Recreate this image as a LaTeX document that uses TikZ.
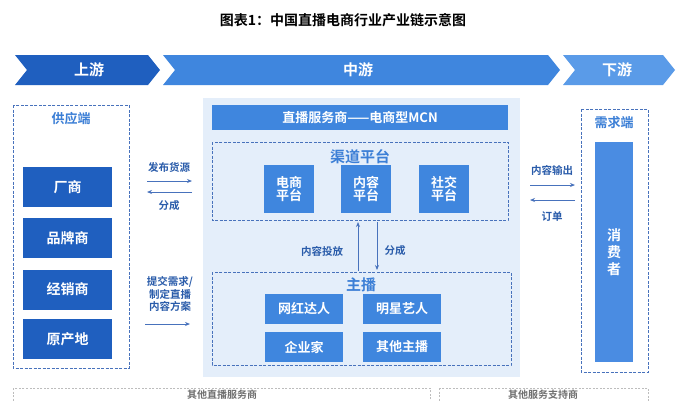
\documentclass[tikz,border=0pt]{standalone}
\usepackage{fontspec}
\setmainfont{Noto Sans CJK SC}[BoldFont={Noto Sans CJK SC Bold}]
\usetikzlibrary{arrows.meta}
\definecolor{cDark}{HTML}{1F5FBF}
\definecolor{cMid}{HTML}{3F86DE}
\definecolor{cLight}{HTML}{5A9BE8}
\definecolor{cCons}{HTML}{4A8CE2}
\definecolor{cPanel}{HTML}{E4EEFA}
\definecolor{cDash}{HTML}{4872BC}
\definecolor{cLab}{HTML}{2A5CAA}
\definecolor{cHead}{HTML}{3C7FD6}
\definecolor{cGray}{HTML}{BDBDBD}
\definecolor{cGrayT}{HTML}{6F6F6F}
\tikzset{
  fs/.style={font=\bfseries\fontsize{#1}{#1}\selectfont},
  chev/.style={fill=#1, draw=none},
  chevtext/.style={text=white, fs=15},
  darkbox/.style={fill=cDark, text=white, fs=14, minimum width=89pt, minimum height=40pt, inner sep=0pt},
  platbox/.style={fill=cMid, text=white, fs=13, minimum width=50pt, minimum height=48pt, inner sep=0pt, align=center},
  anchbox/.style={fill=cMid, text=white, fs=13, minimum width=78pt, minimum height=30pt, inner sep=0pt},
  dashbox/.style={draw=cDash, line width=1pt, dash pattern=on 3pt off 1.5pt},
  graybox/.style={draw=cGray, line width=0.8pt, dash pattern=on 2pt off 1.5pt},
  lab/.style={text=cLab, fs=10.5, align=center, inner sep=0pt},
  headtxt/.style={text=cHead, fs=13, inner sep=0pt},
  arr/.style={draw=cDash, line width=1pt, -{Stealth[length=5pt,width=4pt]}},
}
\begin{document}
\begin{tikzpicture}[x=1pt,y=-1pt]
\clip (0,0) rectangle (686,400);
\fill[white] (0,0) rectangle (686,400);
% title
\node[fs=14] (title) at (343,20) {图表1：中国直播电商行业产业链示意图};
% chevrons
\path[chev=cDark] (15,55) -- (148,55) -- (160,70) -- (148,85) -- (15,85) -- (27,70) -- cycle;
\path[chev=cMid] (163,55) -- (548,55) -- (560,70) -- (548,85) -- (163,85) -- (175,70) -- cycle;
\path[chev=cLight] (563,55) -- (663,55) -- (675,70) -- (663,85) -- (563,85) -- (575,70) -- cycle;
\node[chevtext] (up) at (89,70) {上游};
\node[chevtext] (mid) at (358,70) {中游};
\node[chevtext] (down) at (617,70) {下游};
% supply side
\draw[dashbox] (13,105) rectangle (129,368);
\node[headtxt] (supply) at (71,119) {供应端};
\node[darkbox] (s1) at (67.5,187) {厂商};
\node[darkbox] (s2) at (67.5,238) {品牌商};
\node[darkbox] (s3) at (67.5,289.5) {经销商};
\node[darkbox] (s4) at (67.5,339) {原产地};
% middle panel
\fill[cPanel] (203,98) rectangle (520,377);
\node[fill=cMid, text=white, fs=13, minimum width=296pt, minimum height=25pt, inner sep=0pt] (mcn) at (360,117.5) {直播服务商——电商型MCN};
\draw[dashbox] (212,142) rectangle (508,220);
\node[headtxt, fs=15] (chan) at (360,157) {渠道平台};
\node[platbox] (p1) at (289,189) {电商\\平台};
\node[platbox] (p2) at (366,189) {内容\\平台};
\node[platbox] (p3) at (444,189) {社交\\平台};
\draw[dashbox] (212,272) rectangle (511,365);
\node[headtxt, fs=15] (host) at (361,285) {主播};
\node[anchbox] (h1) at (304,309) {网红达人};
\node[anchbox] (h2) at (402,309) {明星艺人};
\node[anchbox] (h3) at (304,347) {企业家};
\node[anchbox] (h4) at (402,347) {其他主播};
% vertical arrows
\coordinate (vu1) at (358,271);
\coordinate (vu2) at (358,222);
\coordinate (vd1) at (377,222);
\coordinate (vd2) at (377,270);
\draw[arr] (vu1) -- (vu2);
\draw[arr] (vd1) -- (vd2);
\node[lab] (l5) at (322,251) {内容投放};
\node[lab] (l6) at (395,251) {分成};
% left arrows
\node[lab] (l1) at (169,167) {发布货源};
\node[lab] (l2) at (169,206) {分成};
\coordinate (la1) at (147,181);
\coordinate (la2) at (192,181);
\coordinate (lb1) at (192,192);
\coordinate (lb2) at (147,192);
\draw[arr] (la1) -- (la2);
\draw[arr] (lb1) -- (lb2);
\node[lab] (l3) at (170,294) {提交需求/\\[1pt]制定直播\\[1pt]内容方案};
\coordinate (lc1) at (145,324);
\coordinate (lc2) at (190,324);
\draw[arr] (lc1) -- (lc2);
% right arrows
\node[lab] (r1) at (552,170) {内容输出};
\node[lab] (r2) at (552,217) {订单};
\coordinate (ra1) at (530,185);
\coordinate (ra2) at (575,185);
\coordinate (rb1) at (575,200);
\coordinate (rb2) at (530,200);
\draw[arr] (ra1) -- (ra2);
\draw[arr] (rb1) -- (rb2);
% demand side
\draw[dashbox] (581,109) rectangle (648,372);
\node[headtxt] (demand) at (614,123) {需求端};
\node[fill=cCons, text=white, fs=14, minimum width=38pt, minimum height=220pt, inner sep=0pt, align=center] (cons) at (614,252) {消\\[3pt]费\\[3pt]者};
% bottom boxes
\draw[graybox] (13,388) rectangle (430,430);
\draw[graybox] (439,388) rectangle (648,430);
\node[text=cGrayT, fs=10, inner sep=0pt] (b1) at (222,394.5) {其他直播服务商};
\node[text=cGrayT, fs=10, inner sep=0pt] (b2) at (543,394.5) {其他服务支持商};
\end{tikzpicture}
\end{document}
